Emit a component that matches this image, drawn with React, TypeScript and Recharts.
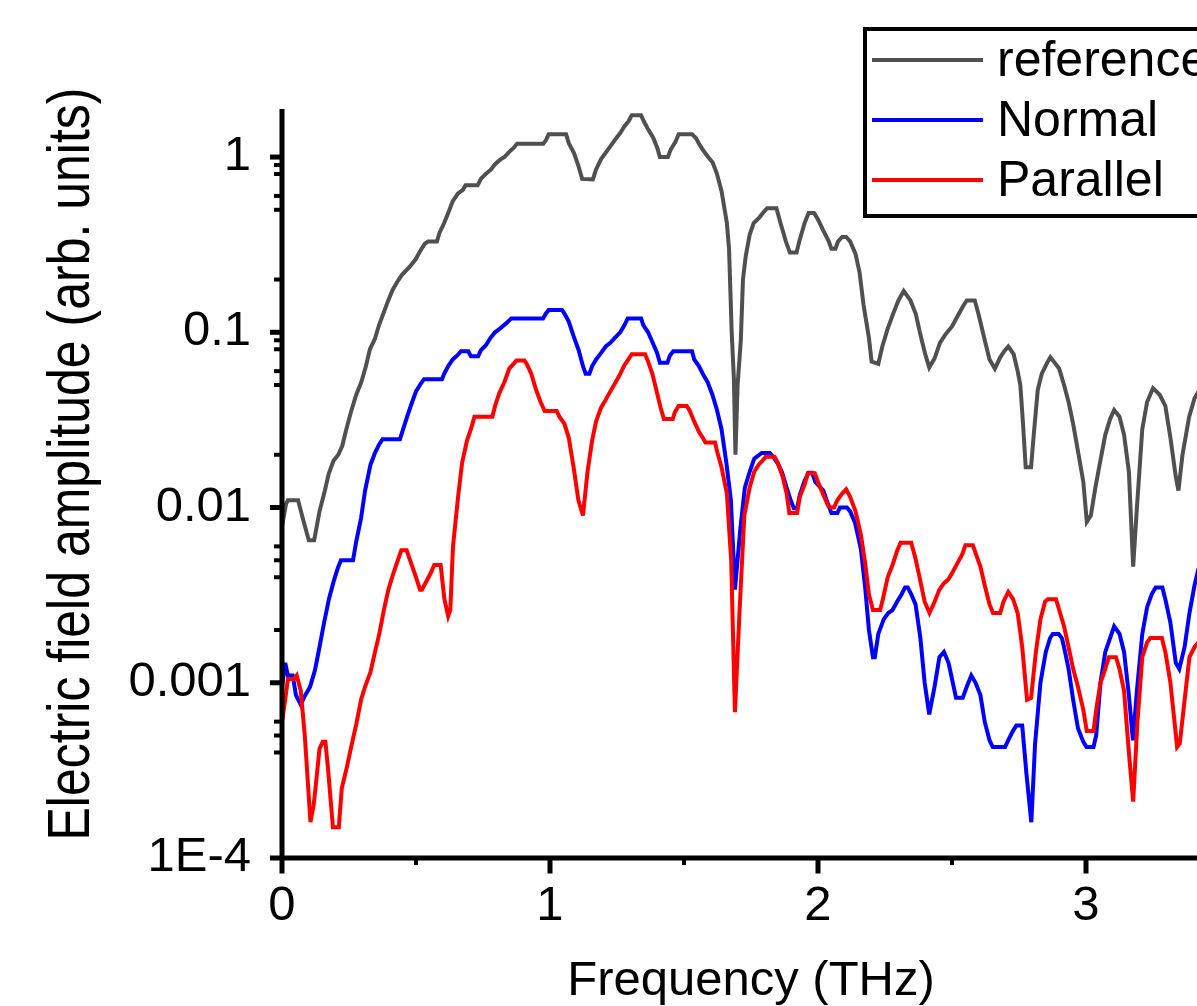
import React from 'react';
import { LineChart, Line, XAxis, YAxis, Legend, Label } from 'recharts';

type Pt = [number, number];

// Frequency (THz), amplitude (arb. units)
const REFERENCE: Pt[] = [
  [0, 0.0078], [0.015, 0.0105], [0.022, 0.011], [0.06, 0.011], [0.08, 0.0084], [0.1, 0.0065], [0.12, 0.0065],
  [0.14, 0.0095], [0.16, 0.0125], [0.174, 0.0155], [0.192, 0.0185], [0.21, 0.02], [0.225, 0.0225], [0.24, 0.028],
  [0.257, 0.035], [0.277, 0.044], [0.296, 0.052], [0.313, 0.064], [0.328, 0.08], [0.347, 0.092], [0.362, 0.11],
  [0.38, 0.13], [0.395, 0.15], [0.413, 0.175], [0.431, 0.195], [0.447, 0.212], [0.475, 0.235], [0.498, 0.26],
  [0.518, 0.295], [0.533, 0.32], [0.545, 0.33], [0.578, 0.33], [0.588, 0.37], [0.605, 0.42], [0.62, 0.48],
  [0.637, 0.56], [0.657, 0.62], [0.675, 0.65], [0.685, 0.69], [0.73, 0.69], [0.742, 0.75], [0.76, 0.8],
  [0.78, 0.85], [0.795, 0.91], [0.812, 0.96], [0.83, 1.0], [0.848, 1.07], [0.865, 1.13], [0.877, 1.19],
  [0.975, 1.19], [0.985, 1.25], [0.995, 1.35], [1.06, 1.35], [1.07, 1.2], [1.09, 1.05], [1.105, 0.9],
  [1.12, 0.75], [1.16, 0.745], [1.172, 0.85], [1.19, 0.97], [1.208, 1.06], [1.225, 1.15], [1.242, 1.25],
  [1.262, 1.37], [1.278, 1.5], [1.293, 1.6], [1.305, 1.73], [1.34, 1.73], [1.35, 1.6], [1.365, 1.45],
  [1.385, 1.29], [1.4, 1.13], [1.41, 1.0], [1.44, 1.0], [1.45, 1.1], [1.468, 1.22], [1.48, 1.35], [1.53, 1.35],
  [1.545, 1.28], [1.555, 1.2], [1.57, 1.1], [1.59, 1.0], [1.607, 0.93], [1.622, 0.81], [1.64, 0.64],
  [1.66, 0.42], [1.668, 0.3], [1.678, 0.1], [1.686, 0.055], [1.692, 0.02], [1.7, 0.05], [1.712, 0.09],
  [1.72, 0.2], [1.73, 0.27], [1.745, 0.36], [1.76, 0.42], [1.78, 0.45], [1.795, 0.48], [1.81, 0.51],
  [1.845, 0.51], [1.86, 0.42], [1.88, 0.33], [1.895, 0.285], [1.92, 0.285], [1.93, 0.33], [1.95, 0.42],
  [1.965, 0.48], [1.985, 0.48], [2.0, 0.44], [2.02, 0.38], [2.04, 0.33], [2.05, 0.3], [2.065, 0.3],
  [2.075, 0.33], [2.09, 0.35], [2.105, 0.35], [2.12, 0.33], [2.14, 0.28], [2.155, 0.22], [2.17, 0.143],
  [2.19, 0.093], [2.2, 0.068], [2.225, 0.066], [2.24, 0.083], [2.26, 0.105], [2.28, 0.127], [2.3, 0.152],
  [2.32, 0.172], [2.345, 0.152], [2.365, 0.127], [2.38, 0.1], [2.4, 0.075], [2.415, 0.063], [2.435, 0.071],
  [2.455, 0.087], [2.475, 0.097], [2.5, 0.108], [2.52, 0.123], [2.54, 0.14], [2.555, 0.152], [2.585, 0.152],
  [2.6, 0.125], [2.62, 0.093], [2.64, 0.07], [2.66, 0.062], [2.68, 0.072], [2.695, 0.078], [2.71, 0.083],
  [2.73, 0.075], [2.745, 0.06], [2.755, 0.05], [2.765, 0.03], [2.775, 0.017], [2.795, 0.017], [2.805, 0.026],
  [2.82, 0.047], [2.835, 0.058], [2.855, 0.067], [2.867, 0.072], [2.88, 0.068], [2.9, 0.062], [2.918, 0.05],
  [2.935, 0.04], [2.952, 0.03], [2.97, 0.021], [2.99, 0.014], [3.003, 0.0083], [3.018, 0.009], [3.035, 0.013],
  [3.055, 0.019], [3.072, 0.026], [3.09, 0.032], [3.105, 0.036], [3.125, 0.033], [3.142, 0.026], [3.16, 0.016],
  [3.176, 0.0046], [3.19, 0.01], [3.21, 0.028], [3.228, 0.04], [3.25, 0.048], [3.275, 0.044], [3.296, 0.038],
  [3.315, 0.025], [3.335, 0.015], [3.345, 0.0125], [3.36, 0.02], [3.385, 0.033], [3.405, 0.042], [3.42, 0.046],
];

const NORMAL: Pt[] = [
  [0, 0.00095], [0.012, 0.0013], [0.022, 0.0011], [0.04, 0.0011], [0.052, 0.00085], [0.07, 0.00075],
  [0.085, 0.00084], [0.105, 0.00095], [0.123, 0.00118], [0.14, 0.0016], [0.157, 0.0022], [0.175, 0.003],
  [0.193, 0.0038], [0.208, 0.0045], [0.22, 0.005], [0.265, 0.005], [0.277, 0.0064], [0.295, 0.0087],
  [0.31, 0.0125], [0.33, 0.0175], [0.347, 0.0205], [0.363, 0.023], [0.375, 0.0245], [0.44, 0.0245],
  [0.452, 0.028], [0.467, 0.033], [0.483, 0.039], [0.5, 0.046], [0.518, 0.051], [0.53, 0.054], [0.597, 0.054],
  [0.605, 0.058], [0.62, 0.064], [0.637, 0.07], [0.655, 0.074], [0.668, 0.078], [0.695, 0.078], [0.705, 0.073],
  [0.732, 0.073], [0.742, 0.079], [0.76, 0.084], [0.778, 0.093], [0.795, 0.1], [0.813, 0.105], [0.835, 0.112],
  [0.856, 0.12], [0.974, 0.12], [0.985, 0.128], [0.995, 0.134], [1.045, 0.134], [1.055, 0.127], [1.07, 0.115],
  [1.088, 0.095], [1.107, 0.079], [1.123, 0.064], [1.133, 0.058], [1.147, 0.058], [1.157, 0.064], [1.172, 0.07],
  [1.19, 0.076], [1.208, 0.083], [1.225, 0.087], [1.242, 0.093], [1.262, 0.1], [1.278, 0.11], [1.29, 0.12],
  [1.34, 0.12], [1.348, 0.11], [1.366, 0.1], [1.382, 0.088], [1.4, 0.076], [1.41, 0.067], [1.438, 0.067],
  [1.448, 0.074], [1.46, 0.078], [1.53, 0.078], [1.538, 0.07], [1.556, 0.064], [1.57, 0.058], [1.588, 0.052],
  [1.606, 0.044], [1.623, 0.036], [1.64, 0.028], [1.658, 0.018], [1.675, 0.011], [1.69, 0.0034], [1.71, 0.0075],
  [1.727, 0.013], [1.745, 0.016], [1.762, 0.019], [1.79, 0.0205], [1.82, 0.0205], [1.832, 0.0195], [1.85, 0.0178],
  [1.865, 0.016], [1.883, 0.013], [1.898, 0.011], [1.91, 0.0099], [1.922, 0.0099], [1.932, 0.0118], [1.95, 0.0142],
  [1.965, 0.0158], [1.978, 0.0158], [1.99, 0.014], [2.02, 0.0125], [2.037, 0.0105], [2.05, 0.0093], [2.072, 0.0093],
  [2.082, 0.01], [2.108, 0.01], [2.12, 0.0095], [2.138, 0.0082], [2.16, 0.0058], [2.176, 0.0035], [2.19, 0.002],
  [2.205, 0.0014], [2.212, 0.0014], [2.225, 0.0019], [2.245, 0.0023], [2.262, 0.0025], [2.278, 0.0026],
  [2.295, 0.0029], [2.312, 0.0032], [2.325, 0.0035], [2.335, 0.0035], [2.348, 0.0032], [2.364, 0.0028],
  [2.382, 0.0018], [2.398, 0.001], [2.415, 0.00066], [2.435, 0.00095], [2.453, 0.0014], [2.47, 0.0015],
  [2.487, 0.0013], [2.503, 0.001], [2.515, 0.00082], [2.54, 0.00082], [2.554, 0.00094], [2.572, 0.0011],
  [2.588, 0.001], [2.606, 0.00085], [2.622, 0.0006], [2.64, 0.00047], [2.652, 0.00043], [2.698, 0.00043],
  [2.71, 0.00047], [2.727, 0.00053], [2.74, 0.00057], [2.762, 0.00057], [2.778, 0.0003], [2.796, 0.00016],
  [2.81, 0.00045], [2.83, 0.001], [2.85, 0.0015], [2.866, 0.0018], [2.876, 0.0019], [2.898, 0.0019],
  [2.91, 0.0018], [2.918, 0.0016], [2.935, 0.0012], [2.952, 0.0008], [2.97, 0.00055], [2.99, 0.00046],
  [3.002, 0.00043], [3.028, 0.00043], [3.038, 0.0005], [3.054, 0.001], [3.072, 0.0015], [3.09, 0.0018],
  [3.105, 0.0021], [3.125, 0.0019], [3.142, 0.0015], [3.16, 0.00085], [3.175, 0.00047], [3.19, 0.0009],
  [3.21, 0.0019], [3.228, 0.0027], [3.245, 0.0032], [3.26, 0.0035], [3.285, 0.0035], [3.296, 0.003],
  [3.315, 0.0022], [3.335, 0.0013], [3.348, 0.0012], [3.368, 0.0016], [3.386, 0.0025], [3.405, 0.0036],
  [3.42, 0.0045],
];

const PARALLEL: Pt[] = [
  [0, 0.0006], [0.012, 0.0008], [0.022, 0.00105], [0.045, 0.00105], [0.055, 0.0011], [0.07, 0.0009],
  [0.085, 0.0005], [0.098, 0.00025], [0.106, 0.00016], [0.118, 0.0002], [0.125, 0.00025], [0.14, 0.00042],
  [0.152, 0.00046], [0.162, 0.00046], [0.172, 0.00032], [0.19, 0.00015], [0.212, 0.00015], [0.223, 0.00025],
  [0.242, 0.00033], [0.258, 0.00043], [0.277, 0.00058], [0.295, 0.0008], [0.31, 0.00095], [0.33, 0.00115],
  [0.347, 0.0015], [0.363, 0.0019], [0.38, 0.0026], [0.397, 0.0034], [0.413, 0.0041], [0.432, 0.005],
  [0.445, 0.0057], [0.465, 0.0057], [0.48, 0.0049], [0.5, 0.004], [0.515, 0.0034], [0.522, 0.0034],
  [0.535, 0.0037], [0.554, 0.0042], [0.568, 0.0047], [0.592, 0.0047], [0.606, 0.003], [0.62, 0.0024],
  [0.628, 0.0026], [0.638, 0.006], [0.657, 0.0115], [0.672, 0.018], [0.69, 0.024], [0.708, 0.029],
  [0.718, 0.033], [0.785, 0.033], [0.795, 0.038], [0.811, 0.045], [0.83, 0.052], [0.848, 0.062],
  [0.864, 0.066], [0.875, 0.069], [0.905, 0.069], [0.913, 0.066], [0.93, 0.058], [0.948, 0.047],
  [0.965, 0.04], [0.98, 0.0355], [1.025, 0.0355], [1.035, 0.033], [1.054, 0.03], [1.07, 0.025],
  [1.088, 0.017], [1.106, 0.011], [1.123, 0.009], [1.14, 0.016], [1.157, 0.024], [1.172, 0.031],
  [1.19, 0.037], [1.207, 0.041], [1.225, 0.046], [1.242, 0.051], [1.26, 0.057], [1.278, 0.065],
  [1.295, 0.071], [1.305, 0.075], [1.355, 0.075], [1.366, 0.068], [1.382, 0.058], [1.398, 0.046],
  [1.413, 0.037], [1.425, 0.032], [1.458, 0.032], [1.466, 0.035], [1.48, 0.038], [1.51, 0.038],
  [1.52, 0.036], [1.538, 0.031], [1.556, 0.027], [1.57, 0.025], [1.58, 0.0235], [1.616, 0.0235],
  [1.623, 0.021], [1.64, 0.017], [1.66, 0.012], [1.676, 0.005], [1.69, 0.00068], [1.707, 0.0025],
  [1.725, 0.009], [1.745, 0.013], [1.762, 0.016], [1.778, 0.0175], [1.793, 0.0185], [1.805, 0.0195],
  [1.838, 0.0195], [1.85, 0.018], [1.868, 0.015], [1.883, 0.012], [1.893, 0.0093], [1.922, 0.0093],
  [1.932, 0.0115], [1.95, 0.0135], [1.962, 0.0157], [1.988, 0.0157], [2.0, 0.014], [2.02, 0.0118],
  [2.037, 0.0103], [2.048, 0.01], [2.06, 0.01], [2.072, 0.011], [2.09, 0.012], [2.105, 0.0127],
  [2.12, 0.0115], [2.14, 0.0095], [2.16, 0.007], [2.176, 0.0048], [2.19, 0.0032], [2.205, 0.0026],
  [2.232, 0.0026], [2.242, 0.003], [2.26, 0.004], [2.278, 0.0047], [2.296, 0.0057], [2.308, 0.0063],
  [2.348, 0.0063], [2.364, 0.0051], [2.382, 0.0038], [2.398, 0.0029], [2.416, 0.0025], [2.435, 0.0029],
  [2.453, 0.0034], [2.47, 0.0037], [2.487, 0.0039], [2.503, 0.0043], [2.52, 0.0048], [2.538, 0.0054],
  [2.55, 0.0061], [2.578, 0.0061], [2.588, 0.0055], [2.606, 0.0046], [2.622, 0.0036], [2.64, 0.0028],
  [2.653, 0.0025], [2.68, 0.0025], [2.692, 0.0029], [2.71, 0.0033], [2.728, 0.003], [2.745, 0.0025],
  [2.762, 0.0016], [2.78, 0.0008], [2.795, 0.00082], [2.813, 0.0015], [2.83, 0.0023], [2.847, 0.0029],
  [2.857, 0.003], [2.888, 0.003], [2.9, 0.0026], [2.918, 0.0021], [2.935, 0.0016], [2.952, 0.0012],
  [2.97, 0.00095], [2.99, 0.0007], [3.003, 0.00053], [3.028, 0.00053], [3.038, 0.0007], [3.054, 0.001],
  [3.072, 0.0012], [3.085, 0.0014], [3.112, 0.0014], [3.125, 0.0012], [3.142, 0.0009], [3.16, 0.0004],
  [3.176, 0.00021], [3.192, 0.0006], [3.21, 0.0014], [3.228, 0.0017], [3.24, 0.0018], [3.283, 0.0018],
  [3.296, 0.0015], [3.315, 0.001], [3.34, 0.00043], [3.35, 0.00045], [3.368, 0.0008], [3.386, 0.0014],
  [3.405, 0.0016], [3.42, 0.0017],
];

const SERIES_NAMES = ['reference', 'Normal', 'Parallel'];
const SERIES_COLORS = ['#505050', '#0000FF', '#FF0000'];
const SERIES_POINTS = [REFERENCE, NORMAL, PARALLEL];

const X_DOMAIN: [number, number] = [0, 3.5];
const X_MAJOR = [0, 1, 2, 3];
const X_MINOR = [0.5, 1.5, 2.5, 3.5];
const Y_DOMAIN: [number, number] = [1e-4, 1.88];
const Y_MAJOR = [1, 0.1, 0.01, 0.001, 0.0001];
const Y_MAJOR_LABELS = ['1', '0.1', '0.01', '0.001', '1E-4'];
const Y_MINOR = [0.9, 0.8, 0.6, 0.5, 0.2, 0.09, 0.08, 0.06, 0.05, 0.02, 0.006, 0.005, 0.004, 0.002, 0.0006, 0.0005, 0.0004];

const X_TITLE = 'Frequency (THz)';
const Y_TITLE = 'Electric field amplitude (arb. units)';

const FONT = '"Liberation Sans", Arial, Helvetica, sans-serif';
const TEXT = '#000';

const toRows = (pts: Pt[]) => pts.map(([x, y]) => ({ x, y }));

function YTick(props: any) {
  const { x, y, payload } = props;
  const v = Number(payload.value);
  const idx = Y_MAJOR.findIndex((m) => Math.abs(m - v) / m < 1e-6);
  const major = idx >= 0;
  return (
    <g>
      <line x1={x - (major ? 12 : 8)} x2={x} y1={y} y2={y} stroke="#000" strokeWidth={major ? 5 : 4} />
      {major && (
        <text x={x - 31} y={y + 13} textAnchor="end" fontSize={49} fontFamily={FONT} fill={TEXT}>
          {Y_MAJOR_LABELS[idx]}
        </text>
      )}
    </g>
  );
}

function XTick(props: any) {
  const { x, y, payload } = props;
  const v = Number(payload.value);
  const major = X_MAJOR.some((m) => Math.abs(m - v) < 1e-9);
  return (
    <g>
      <line x1={x} x2={x} y1={y} y2={y + (major ? 15.5 : 7)} stroke="#000" strokeWidth={major ? 5 : 4} />
      {major && (
        <text x={x} y={y + 62} textAnchor="middle" fontSize={49} fontFamily={FONT} fill={TEXT}>
          {String(v)}
        </text>
      )}
    </g>
  );
}

function XTitle(props: any) {
  const vb = props.viewBox || { x: 282, y: 858, width: 938, height: 148 };
  const cx = vb.x + vb.width / 2;
  const by = vb.y + vb.height - 11;
  return (
    <text x={cx} y={by} textAnchor="middle" fontSize={49} fontFamily={FONT} fill={TEXT}>
      {X_TITLE}
    </text>
  );
}

function YTitle(props: any) {
  const vb = props.viewBox || { x: 0, y: 109, width: 282, height: 749 };
  const cx = vb.x + 67;
  const cy = vb.y + vb.height / 2 - 19.5;
  return (
    <text
      transform={`translate(${cx},${cy}) rotate(-90) scale(1,1.2)`}
      x={0}
      y={18}
      textAnchor="middle"
      fontSize={50}
      fontFamily={FONT}
      fill={TEXT}
    >
      {Y_TITLE}
    </text>
  );
}

function LegendBox() {
  return (
    <svg width={400} height={192} style={{ display: 'block', overflow: 'visible' }}>
      <rect x={2} y={2} width={400} height={187} fill="#fff" stroke="#000" strokeWidth={4} />
      {SERIES_NAMES.map((name, i) => (
        <g key={name}>
          <line x1={9} x2={120} y1={33 + 60 * i} y2={33 + 60 * i} stroke={SERIES_COLORS[i]} strokeWidth={4} />
          <text x={134} y={49 + 60 * i} fontSize={50} fontFamily={FONT} fill={TEXT}>
            {name}
          </text>
        </g>
      ))}
    </svg>
  );
}

export default function App() {
  return (
    <div
      style={{
        position: 'fixed',
        left: 0,
        top: 0,
        width: 1197,
        height: 1006,
        overflow: 'hidden',
        background: '#fff',
      }}
    >
      <LineChart width={1270} height={1006} margin={{ top: 109, right: 50, bottom: 0, left: 0 }}>
        <XAxis
          dataKey="x"
          type="number"
          domain={X_DOMAIN}
          allowDataOverflow
          ticks={[...X_MAJOR, ...X_MINOR].sort((a, b) => a - b)}
          interval={0}
          tickSize={0}
          tickMargin={0}
          height={148}
          axisLine={{ stroke: '#000', strokeWidth: 5 }}
          tickLine={false}
          tick={<XTick />}
          label={<Label content={XTitle} />}
        />
        <YAxis
          dataKey="y"
          type="number"
          scale="log"
          domain={Y_DOMAIN}
          allowDataOverflow
          ticks={[...Y_MAJOR, ...Y_MINOR].sort((a, b) => a - b)}
          interval={0}
          tickSize={0}
          tickMargin={0}
          width={282}
          axisLine={{ stroke: '#000', strokeWidth: 5 }}
          tickLine={false}
          tick={<YTick />}
          label={<Label content={YTitle} />}
        />
        <Legend
          layout="vertical"
          align="center"
          verticalAlign="middle"
          wrapperStyle={{ position: 'absolute', left: 863, top: 27, width: 400, height: 192 }}
          content={() => <LegendBox />}
        />
        {SERIES_NAMES.map((name, i) => (
          <Line
            key={name}
            name={name}
            data={toRows(SERIES_POINTS[i])}
            dataKey="y"
            type="linear"
            stroke={SERIES_COLORS[i]}
            strokeWidth={4}
            dot={false}
            activeDot={false}
            isAnimationActive={false}
          />
        ))}
      </LineChart>
    </div>
  );
}
